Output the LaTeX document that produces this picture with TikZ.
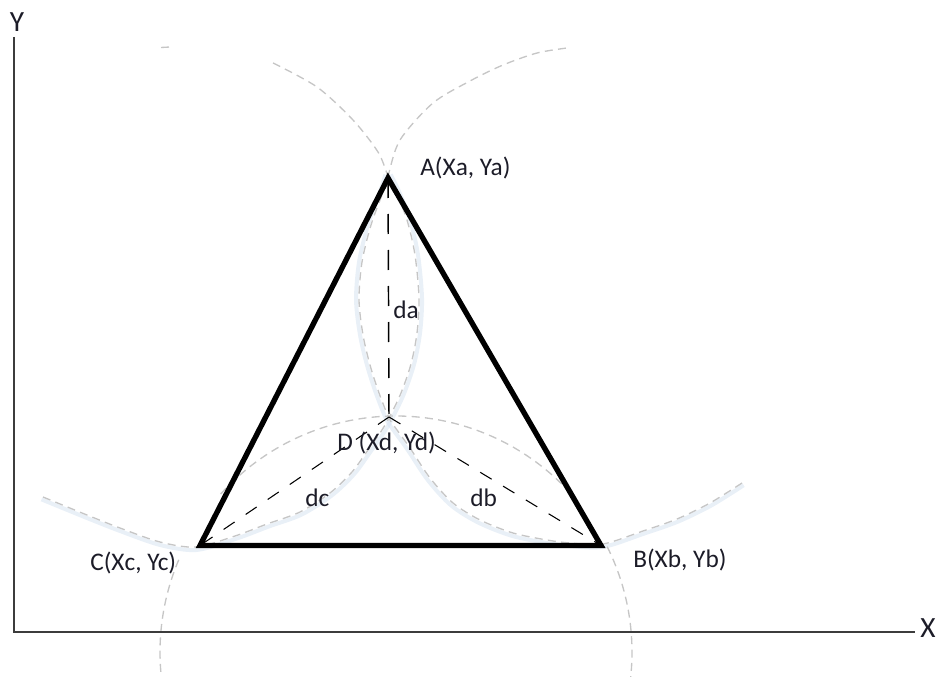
\documentclass[tikz,border=0pt]{standalone}
\usepackage{fontspec}
\setmainfont{Carlito}
\definecolor{arcgray}{RGB}{198,198,198}
\definecolor{glowblue}{RGB}{212,225,240}
\definecolor{axisgray}{RGB}{60,60,60}
\definecolor{labelink}{RGB}{28,28,40}
\tikzset{
  circarc/.style={draw=arcgray, line width=1pt, dash pattern=on 6pt off 4pt},
  glowarc/.style={draw=glowblue, line width=3pt, opacity=0.5},
  tri/.style={draw=black, line width=4pt, line join=miter},
  axisline/.style={draw=axisgray, line width=1.1pt},
  vdash/.style={draw=black, line width=1.1pt, dash pattern=on 15pt off 12pt},
  ddash/.style={draw=black, line width=0.8pt, dash pattern=on 10pt off 10pt},
  lbl/.style={font=\fontsize{19}{23}\selectfont, text=labelink, inner sep=0pt, anchor=west},
  axlbl/.style={font=\fontsize{22}{26}\selectfont, text=labelink, inner sep=0pt},
}
\begin{document}
\begin{tikzpicture}[x=0.75pt,y=-0.75pt]
\useasboundingbox (0,0) rectangle (941,677);
\clip (0,0) rectangle (941,677);
% points
\coordinate (A) at (388,178);
\coordinate (B) at (601,545.5);
\coordinate (C) at (200,545.5);
\coordinate (D) at (389,417);
\coordinate (O) at (14,632);
\coordinate (Ytop) at (14,37);
\coordinate (Xend) at (915,632);
% glow under the lower arcs
\draw[glowarc, scale around={1.012:(168,297)}] plot[smooth] coordinates {
 (43,497) (87,515) (120,528) (160,542) (196,547) (235,536) (267,524) (300,512)
 (330,493) (352,472) (368,450) (380,433) (389,418) (401,393) (411,364) (417,333)
 (419,298) (415,255) (407,220) (396,192) (388,176)};
\draw[glowarc, scale around={1.012:(605,296)}] plot[smooth] coordinates {
 (742,483) (710,503) (677,519) (643,531) (603,544) (570,543) (547,540) (513,533)
 (480,520) (453,503) (430,478) (410,448) (397,430) (389,418) (379,393) (370,365)
 (363,335) (359,300) (362,262) (371,225) (383,192) (388,176)};
% dashed gray arcs: left circle
\draw[circarc] plot[smooth] coordinates {
 (43,497) (87,515) (120,528) (160,542) (196,547) (235,536) (267,524) (300,512)
 (330,493) (352,472) (368,450) (380,433) (389,418) (401,393) (411,364) (417,333)
 (419,298) (415,255) (407,220) (396,192) (388,176) (378,152) (353,120) (317,87) (273,63)};
\draw[circarc] (161,47.5) -- (170,47);
% right circle
\draw[circarc] plot[smooth] coordinates {
 (742,483) (710,503) (677,519) (643,531) (603,544) (570,543) (547,540) (513,533)
 (480,520) (453,503) (430,478) (410,448) (397,430) (389,418) (379,393) (370,365)
 (363,335) (359,300) (362,262) (371,225) (383,192) (388,176) (400,140) (433,103)
 (470,81) (503,65) (537,53) (567,48)};
% bottom circle
\draw[circarc] (396,652) ++(-138:236) arc[start angle=-138, end angle=-42, radius=236];
\draw[circarc] (396,652) ++(203:236) arc[start angle=203, end angle=168, radius=236];
\draw[circarc] (396,652) ++(-26.5:236) arc[start angle=-26.5, end angle=12, radius=236];
% axes
\draw[axisline] (Ytop) -- (O) -- (Xend);
% triangle
\draw[tri] (A) -- (B) -- (C) -- cycle;
% distances
\draw[vdash] (A) -- (D);
\draw[ddash] (D) -- (C);
\draw[ddash] (D) -- (B);
% labels
\node[lbl] (Alab) at (420,168) {A(Xa, Ya)};
\node[lbl] (Blab) at (633,560) {B(Xb, Yb)};
\node[lbl] (Clab) at (90,563) {C(Xc, Yc)};
\node[lbl] (Dlab) at (337,443) {D (Xd, Yd)};
\node[lbl] (da) at (393,310) {da};
\node[lbl] (dc) at (305,498) {dc};
\node[lbl] (db) at (470,498) {db};
\node[axlbl] (Ylab) at (17,22) {Y};
\node[axlbl] (Xlab) at (928,628) {X};
\end{tikzpicture}
\end{document}
